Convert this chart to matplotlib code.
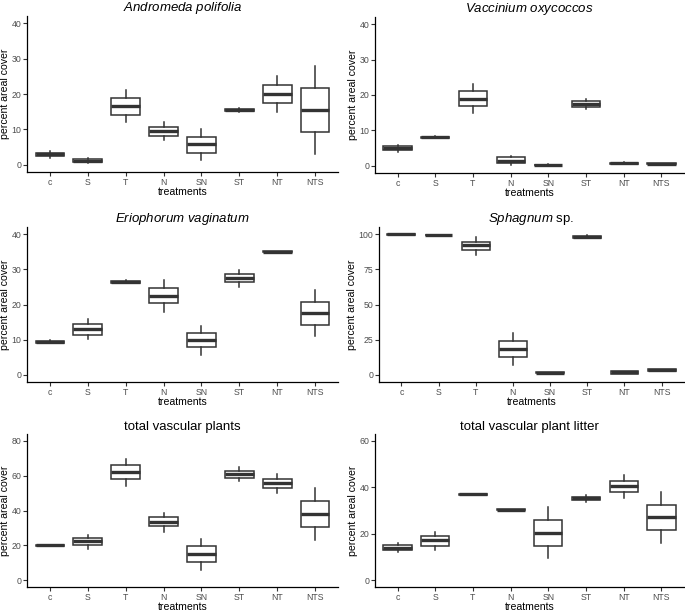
import matplotlib
matplotlib.use("Agg")
import matplotlib.pyplot as plt

plt.rcParams['font.family'] = ['Liberation Sans', 'DejaVu Sans']
plt.rcParams['mathtext.fontset'] = 'custom'
plt.rcParams['mathtext.it'] = 'Liberation Sans:italic'
plt.rcParams['mathtext.rm'] = 'Liberation Sans'

treatments = ["c", "S", "T", "N", "SN", "ST", "NT", "NTS"]

# box stats per treatment: (whisker low, q1, median, q3, whisker high)
andromeda = [(2.0, 2.4, 3.0, 3.5, 4.0), (0.5, 0.85, 1.2, 1.8, 2.0),
             (12.0, 14.2, 16.6, 18.8, 21.2), (7.0, 8.2, 9.6, 10.8, 12.0),
             (1.5, 3.5, 5.8, 7.9, 10.0), (15.0, 15.2, 15.5, 15.9, 16.0),
             (15.0, 17.5, 20.1, 22.5, 25.0), (3.0, 9.2, 15.6, 21.8, 28.0)]
vaccinium = [(4.0, 4.4, 5.0, 5.6, 6.0), (7.9, 8.0, 8.1, 8.2, 8.3),
             (15.0, 17.0, 19.0, 21.0, 23.0), (0.3, 0.85, 1.4, 2.4, 2.9),
             (0.1, 0.2, 0.3, 0.35, 0.4), (16.0, 16.7, 17.5, 18.4, 19.0),
             (0.4, 0.5, 0.7, 0.9, 1.0), (0.3, 0.4, 0.6, 0.8, 0.9)]
eriophorum = [(9.0, 9.2, 9.4, 9.7, 10.0), (10.2, 11.4, 13.1, 14.4, 15.8),
              (26.0, 26.2, 26.5, 26.8, 27.0), (18.0, 20.3, 22.5, 24.8, 26.9),
              (5.8, 7.9, 10.0, 11.9, 13.8), (24.9, 26.3, 27.5, 28.8, 29.9),
              (34.8, 34.9, 35.0, 35.1, 35.2), (11.0, 14.2, 17.5, 20.8, 24.0)]
sphagnum = [(99.3, 99.5, 99.8, 100.0, 100.0), (99.0, 99.1, 99.3, 99.5, 99.6),
            (85.4, 88.4, 92.0, 94.6, 97.6), (6.8, 12.7, 18.6, 24.0, 29.5),
            (1.0, 1.1, 1.5, 1.9, 2.0), (97.0, 97.5, 98.0, 98.5, 99.0),
            (0.5, 1.0, 1.8, 2.5, 3.0), (3.0, 3.1, 3.5, 3.9, 4.0)]
vascular = [(19.7, 19.8, 20.0, 20.2, 20.3), (18.1, 20.2, 22.3, 24.0, 25.8),
            (54.0, 57.9, 62.3, 66.0, 69.8), (27.9, 30.8, 33.6, 36.2, 38.7),
            (5.8, 10.6, 15.1, 19.4, 23.8), (57.2, 58.9, 60.9, 63.0, 64.9),
            (50.2, 52.8, 55.8, 58.3, 60.8), (22.8, 30.4, 37.9, 45.5, 53.0)]
litter = [(12.1, 12.8, 14.0, 15.0, 15.8), (13.0, 14.8, 17.1, 19.0, 20.9),
          (36.7, 36.8, 37.0, 37.2, 37.3), (30.0, 30.1, 30.3, 30.5, 30.6),
          (9.3, 14.8, 20.3, 25.8, 31.3), (33.7, 34.4, 35.3, 36.0, 36.7),
          (35.6, 38.0, 40.4, 42.8, 45.3), (16.1, 21.6, 27.1, 32.5, 37.8)]

panels = [
    (r"$\mathit{Andromeda\ polifolia}$", andromeda, 40, [0, 10, 20, 30, 40], (27, 16, 338, 172)),
    (r"$\mathit{Vaccinium\ oxycoccos}$", vaccinium, 40, [0, 10, 20, 30, 40], (375, 17, 684, 173)),
    (r"$\mathit{Eriophorum\ vaginatum}$", eriophorum, 40, [0, 10, 20, 30, 40], (27, 227, 338, 382)),
    (r"$\mathit{Sphagnum}$ sp.", sphagnum, 100, [0, 25, 50, 75, 100], (379, 227, 684, 382)),
    ("total vascular plants", vascular, 80, [0, 20, 40, 60, 80], (27, 434, 338, 587)),
    ("total vascular plant litter", litter, 60, [0, 20, 40, 60], (375, 434, 684, 587)),
]

W, H = 685, 613
fig = plt.figure(figsize=(W / 100, H / 100), dpi=100)

box_col = "#333333"
for title, stats, top, ticks, (l, t, r, b) in panels:
    ax = fig.add_axes([l / W, 1 - b / H, (r - l) / W, (b - t) / H])
    bx = [dict(whislo=s[0], q1=s[1], med=s[2], q3=s[3], whishi=s[4], label=name)
          for s, name in zip(stats, treatments)]
    ax.bxp(bx, positions=range(1, len(treatments) + 1), widths=0.75,
           showfliers=False, showcaps=False, patch_artist=True,
           boxprops=dict(facecolor="white", edgecolor=box_col, linewidth=1.1),
           whiskerprops=dict(color=box_col, linewidth=1.1),
           medianprops=dict(color=box_col, linewidth=2.4, solid_capstyle="butt"))
    ax.set_xlim(0.4, 8.6)
    ax.set_ylim(-0.05 * top, 1.05 * top)
    ax.set_yticks(ticks)
    ax.set_xticks(range(1, len(treatments) + 1))
    ax.set_xticklabels(treatments)
    for side in ("top", "right"):
        ax.spines[side].set_visible(False)
    for side in ("left", "bottom"):
        ax.spines[side].set_linewidth(0.9)
    ax.tick_params(length=3, width=0.8, color="#333333", labelsize=6.3,
                   labelcolor="#4D4D4D", pad=1.2)
    ax.set_xlabel("treatments", fontsize=7.6, labelpad=0)
    ax.set_ylabel("percent areal cover", fontsize=7.6, labelpad=1)
    ax.set_title(title, fontsize=9.5, pad=3)

fig.savefig("out.png", dpi=100)
